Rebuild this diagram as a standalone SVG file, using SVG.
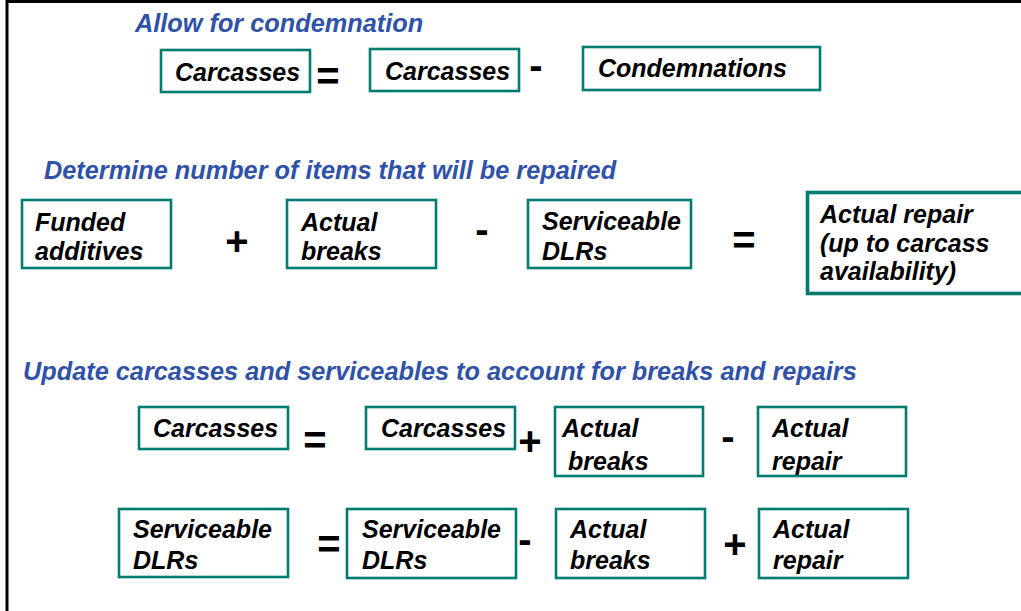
<svg xmlns="http://www.w3.org/2000/svg" width="1021" height="611" viewBox="0 0 1021 611">
<style>
.box{fill:#fff;stroke:#007B70;stroke-width:2.6}
.thick{stroke-width:3.6}
.t{font-family:"Liberation Sans",Arial,sans-serif;font-weight:bold;font-style:italic;font-size:25px;fill:#000}
.h{font-family:"Liberation Sans",Arial,sans-serif;font-weight:bold;font-style:italic;font-size:25.3px;fill:#2F52A8}
.op{font-family:"Liberation Sans",Arial,sans-serif;font-weight:bold;font-size:40px;fill:#000;text-anchor:middle}
</style>
<rect width="1021" height="611" fill="#fff"/>
<path d="M7,611 V1.5 H1021" fill="none" stroke="#000" stroke-width="3"/>

<g id="titles">
<text class="h" x="135" y="32">Allow for condemnation</text>
<text class="h" x="44" y="179">Determine number of items that will be repaired</text>
<text class="h" x="23" y="380">Update carcasses and serviceables to account for breaks and repairs</text>
</g>

<!-- Row 1 -->
<g id="r1-carcasses"><rect class="box" x="161" y="50" width="149" height="42"/><text class="t" x="175" y="81">Carcasses</text></g>
<g id="r1-carcasses2"><rect class="box" x="370" y="49" width="149" height="42"/><text class="t" x="385" y="80">Carcasses</text></g>
<g id="r1-condemnations"><rect class="box" x="583" y="47" width="237" height="43"/><text class="t" x="598" y="77">Condemnations</text></g>

<!-- Row 2 -->
<g id="r2-funded"><rect class="box" x="22" y="200" width="149" height="68"/><text class="t" x="35" y="231">Funded</text><text class="t" x="35" y="260">additives</text></g>
<g id="r2-breaks"><rect class="box" x="287" y="200" width="149" height="68"/><text class="t" x="301" y="231">Actual</text><text class="t" x="301" y="260">breaks</text></g>
<g id="r2-serviceable"><rect class="box" x="528" y="200" width="163" height="68"/><text class="t" x="542" y="230">Serviceable</text><text class="t" x="542" y="260">DLRs</text></g>
<g id="r2-repair"><rect class="box thick" x="807.5" y="192.5" width="230" height="101"/><text class="t" x="820" y="223">Actual repair</text><text class="t" x="820" y="252">(up to carcass</text><text class="t" x="820" y="280">availability)</text></g>

<!-- Row 3 -->
<g id="r3-carcasses"><rect class="box" x="139" y="407" width="149" height="42"/><text class="t" x="153" y="437">Carcasses</text></g>
<g id="r3-carcasses2"><rect class="box" x="366" y="407" width="149" height="42"/><text class="t" x="381" y="437">Carcasses</text></g>
<g id="r3-breaks"><rect class="box" x="555" y="407" width="148" height="69"/><text class="t" x="562" y="437">Actual</text><text class="t" x="568" y="470">breaks</text></g>
<g id="r3-repair"><rect class="box" x="758" y="407" width="148" height="69"/><text class="t" x="772" y="437">Actual</text><text class="t" x="772" y="470">repair</text></g>

<!-- Row 4 -->
<g id="r4-serviceable"><rect class="box" x="119" y="509" width="169" height="68"/><text class="t" x="133" y="538">Serviceable</text><text class="t" x="133" y="569">DLRs</text></g>
<g id="r4-serviceable2"><rect class="box" x="347" y="509" width="169" height="69"/><text class="t" x="362" y="538">Serviceable</text><text class="t" x="362" y="569">DLRs</text></g>
<g id="r4-breaks"><rect class="box" x="556" y="509" width="149" height="69"/><text class="t" x="570" y="538">Actual</text><text class="t" x="570" y="569">breaks</text></g>
<g id="r4-repair"><rect class="box" x="759" y="509" width="149" height="69"/><text class="t" x="773" y="538">Actual</text><text class="t" x="773" y="569">repair</text></g>

<g id="connectors">
<text class="op" x="328" y="90">=</text>
<text class="op" x="536" y="79">-</text>
<text class="op" x="237" y="255">+</text>
<text class="op" x="482" y="243">-</text>
<text class="op" x="744" y="254">=</text>
<text class="op" x="315" y="454">=</text>
<text class="op" x="530" y="455">+</text>
<text class="op" x="728" y="450">-</text>
<text class="op" x="329" y="558">=</text>
<text class="op" x="525" y="553">-</text>
<text class="op" x="735" y="558">+</text>
</g>
</svg>
